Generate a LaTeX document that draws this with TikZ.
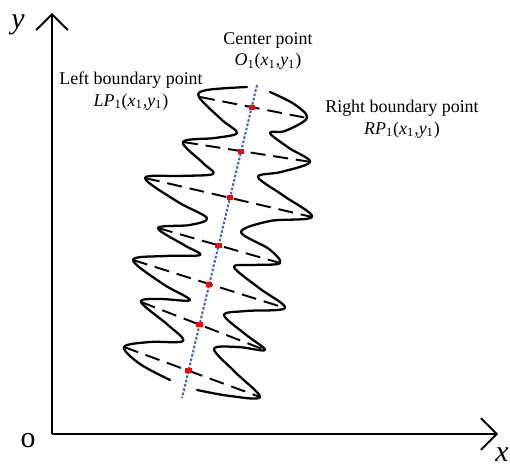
\documentclass[tikz,border=0pt]{standalone}
\usepackage{fontspec}
\setmainfont{Liberation Serif}
\usetikzlibrary{arrows.meta}
\definecolor{axblue}{RGB}{58,104,190}
\newcommand{\ptxy}{(\textit{x}\textsubscript{1},\textit{y}\textsubscript{1})}

\begin{document}
\begin{tikzpicture}[x=0.02cm,y=-0.02cm,
    axis/.style={line width=1.1pt,-{Straight Barb[length=9pt,width=18pt,line width=1.1pt]}},
    edge/.style={line width=1.3pt,line join=round,line cap=round},
    chord/.style={line width=1.1pt,dash pattern=on 8.5pt off 4.5pt},
    midline/.style={line width=1.15pt,draw=axblue,dash pattern=on 1.5pt off 1pt},
    redpt/.style={rectangle,fill=red,inner sep=0pt,minimum width=3.6pt,minimum height=2.8pt},
    lbl/.style={font=\fontsize{10.2}{12.5}\selectfont,align=center},
    big/.style={font=\fontsize{17}{20}\selectfont}]
    \useasboundingbox (0,0) rectangle (510,469);

    % Axes
    \coordinate (O) at (52,434);
    \coordinate (ytip) at (52,13);
    \coordinate (xtip) at (498,434);
    \draw[axis] (O) -- (ytip);
    \draw[axis] (O) -- (xtip);
    \node[big] (ylab) at (18,25) {\textit{y}};
    \node[big] (xlab) at (502,455) {\textit{x}};
    \node[big] (olab) at (28,441) {o};

    % Left boundary
    \draw[edge] plot[smooth,tension=0.55] coordinates {
        (247,87) (207,90) (199,97) (222,120) (237,133) (215,138) (183,142)
        (203,163) (213,174) (180,176) (145,178) (178,202) (207,218) (190,225)
        (158,228) (184,245) (200,255) (165,256) (133,260) (163,284) (190,300)
        (160,299) (141,302) (168,325) (183,341) (150,342) (124,347) (140,364)
        (170,380)};

    % Right boundary
    \draw[edge] plot[smooth,tension=0.55] coordinates {
        (270,92) (294,104) (307,118) (285,131) (270,133) (289,148) (310,162)
        (281,172) (258,177) (284,196) (312,217) (270,221) (241,232) (269,249)
        (280,263) (255,265) (234,267) (259,288) (285,308) (246,311) (224,315)
        (245,334) (265,350) (238,347) (214,349) (235,372) (260,397) (230,396)
        (197,390)};

    % Boundary points
    \coordinate (L1) at (200,97);  \coordinate (R1) at (307,118);
    \coordinate (L2) at (183,142); \coordinate (R2) at (311,162);
    \coordinate (L3) at (145,178); \coordinate (R3) at (312,217);
    \coordinate (L4) at (158,228); \coordinate (R4) at (280,263);
    \coordinate (L5) at (133,260); \coordinate (R5) at (285,308);
    \coordinate (L6) at (141,302); \coordinate (R6) at (265,350);
    \coordinate (L7) at (124,347); \coordinate (R7) at (260,397);

    % Chords between boundary points
    \foreach \i in {1,...,7}
        \draw[chord] (L\i) -- (R\i);

    % Center line
    \coordinate (ctop) at (257,85);
    \coordinate (cbot) at (182,398);
    \draw[midline] (ctop) -- (cbot);

    % Center points
    \foreach \i in {1,...,7}
        \node[redpt] (c\i) at (intersection cs:first line={(L\i)--(R\i)},second line={(ctop)--(cbot)}) {};

    % Labels
    \node[lbl] (ctext) at (268,51) {Center point\\\textit{O}\textsubscript{1}\ptxy};
    \node[lbl] (ltext) at (131,91) {Left boundary point\\\textit{LP}\textsubscript{1}\ptxy};
    \node[lbl] (rtext) at (402,119) {Right boundary point\\\textit{RP}\textsubscript{1}\ptxy};
\end{tikzpicture}
\end{document}
